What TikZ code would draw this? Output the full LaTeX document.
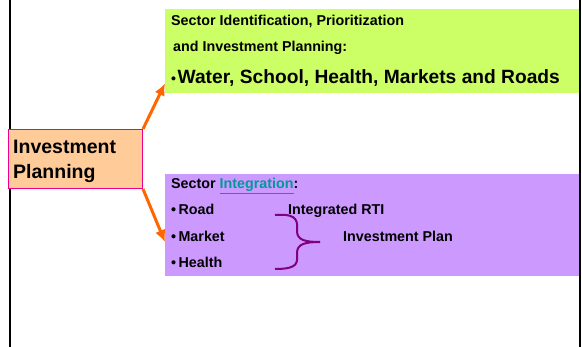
\documentclass[tikz,border=0pt]{standalone}
\usepackage{fontspec}
\setmainfont{Liberation Sans}
\usepackage{xcolor}
\usepackage{tikz}
\definecolor{ipgreen}{HTML}{CCFF66}
\definecolor{ippurple}{HTML}{CC99FF}
\definecolor{iporange}{HTML}{FFCC99}
\definecolor{ipflow}{HTML}{FF6600}
\definecolor{ipteal}{HTML}{009999}
\definecolor{ipbrace}{HTML}{800080}
\usetikzlibrary{shapes.geometric, arrows, arrows.meta, positioning, calc}
\tikzset{
  box/.style={inner sep=0pt, anchor=north west},
  lbl/.style={anchor=base west, inner sep=0pt, font=\fontsize{14.3}{16}\selectfont\bfseries},
  flow/.style={-{Latex[length=12pt,width=11pt]}, line width=3pt, ipflow}
}

\begin{document}
\begin{tikzpicture}[x=1pt, y=-1pt]
\useasboundingbox (0,0) rectangle (582,347);
% side rules
\draw[line width=2pt] (10,0) -- (10,347);
\draw[line width=2pt] (579.5,0) -- (579.5,347);
% boxes
\node[box, fill=ipgreen, minimum width=414pt, minimum height=84pt] (idbox) at (165,9) {};
\node[box, fill=ippurple, minimum width=414pt, minimum height=102pt] (intbox) at (165,174) {};
\node[box, fill=iporange, draw=magenta, line width=1pt, minimum width=134pt, minimum height=59pt] (ipbox) at (8,129) {};
\node[anchor=base west, inner sep=0pt, font=\fontsize{19.5}{22}\selectfont\bfseries] (inv) at (13,154) {Investment};
\node[anchor=base west, inner sep=0pt, font=\fontsize{19.5}{22}\selectfont\bfseries] (plan) at (13,179) {Planning};
% arrows
\draw[flow] (ipbox.north east) -- ($(idbox.south west)+(0,-10)$);
\draw[flow] (ipbox.south east) -- ($(intbox.north west)+(0,68)$);
% identification box text
\node[lbl] (idhead) at (171,26) {Sector Identification, Prioritization};
\node[lbl] (idsub) at (173,52) {and Investment Planning:};
\node[anchor=base west, inner sep=0pt, font=\fontsize{19.2}{22}\selectfont\bfseries] (sectors) at (171,84) {{\fontsize{14}{16}\selectfont\textbullet}\kern1.5pt Water, School, Health, Markets and Roads};
% integration box text
\node[lbl] (inthead) at (171,189) {Sector \textcolor{ipteal}{\underline{Integration}}:};
\node[lbl] (road) at (171,215) {\textbullet\,Road};
\node[lbl] (market) at (171,242) {\textbullet\,Market};
\node[lbl] (health) at (171,268) {\textbullet\,Health};
\node[lbl] (rti) at (288,215) {Integrated RTI};
\node[lbl] (iplan) at (343,242) {Investment Plan};
% brace
\draw[ipbrace, line width=2pt] (275,215) .. controls (300,213) and (297,223) .. (297,231)
  .. controls (297,240) and (305,242) .. (320,242)
  .. controls (305,242) and (297,244) .. (297,253)
  .. controls (297,262) and (300,269) .. (275,269);
\end{tikzpicture}
\end{document}
